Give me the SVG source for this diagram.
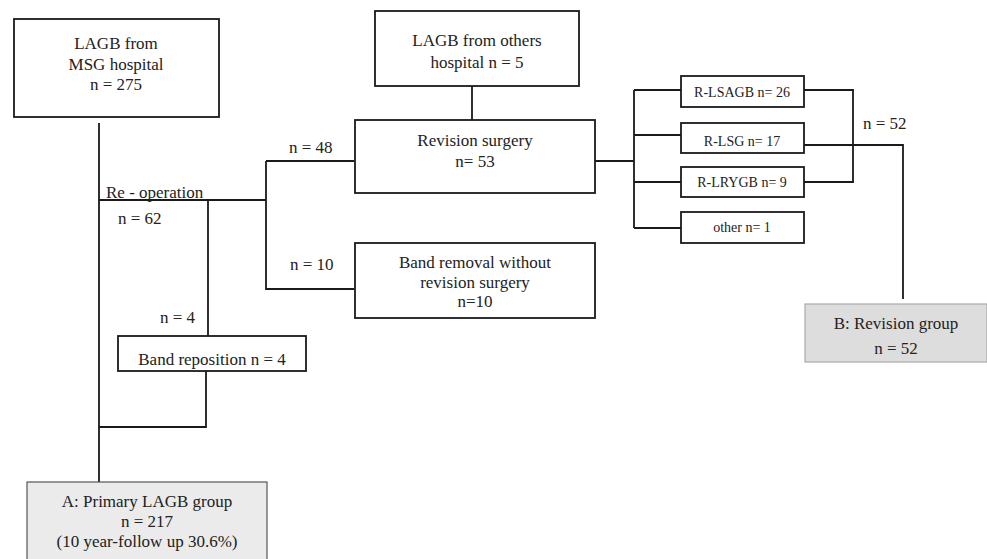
<svg xmlns="http://www.w3.org/2000/svg" width="987" height="559" viewBox="0 0 987 559">
<style>
.b{fill:#fff;stroke:#1a1a1a;stroke-width:1.8}
.g{fill:#ebebeb;stroke:#555;stroke-width:1.2}
.gb{fill:#dddddd;stroke:#aaa;stroke-width:1.2}
.t{font-family:"Liberation Serif","Times New Roman",serif;font-size:17px;fill:#222;text-anchor:middle}
.s{font-family:"Liberation Serif","Times New Roman",serif;font-size:14px;fill:#222;text-anchor:middle}
.l{font-family:"Liberation Serif","Times New Roman",serif;font-size:17px;fill:#222}
.c{fill:none;stroke:#1a1a1a;stroke-width:1.8}
</style>
<rect width="987" height="559" fill="#fff"/>
<g id="connectors">
<path class="c" d="M99 123V482M99 200H266M208 200V336M266 161V290M266 161H354M266 289H354M206 371V427H99"/>
<path class="c" d="M472 86V120M595 161H634M634 90V228M634 90H681M634 135H681M634 182H681M634 228H681"/>
<path class="c" d="M804 90H853V182H804M804 145H903V299"/>
</g>
<g id="labels">
<text class="l" x="106" y="198">Re - operation</text>
<text class="l" x="118" y="224">n = 62</text>
<text class="l" x="289" y="153">n = 48</text>
<text class="l" x="290" y="270">n = 10</text>
<text class="l" x="160" y="323">n = 4</text>
<text class="l" x="863" y="129">n = 52</text>
</g>
<g id="msg">
<rect class="b" x="14" y="19" width="205" height="98"/>
<text class="t" x="116" y="49">LAGB from</text>
<text class="t" x="116" y="70">MSG hospital</text>
<text class="t" x="116" y="90">n = 275</text>
</g>
<g id="others">
<rect class="b" x="375" y="11" width="204" height="75"/>
<text class="t" x="477" y="46">LAGB from others</text>
<text class="t" x="477" y="68">hospital n = 5</text>
</g>
<g id="revision">
<rect class="b" x="355" y="120" width="240" height="73"/>
<text class="t" x="475" y="146">Revision surgery</text>
<text class="t" x="475" y="167">n= 53</text>
</g>
<g id="removal">
<rect class="b" x="355" y="243" width="240" height="75"/>
<text class="t" x="475" y="268">Band removal without</text>
<text class="t" x="475" y="288">revision surgery</text>
<text class="t" x="475" y="307">n=10</text>
</g>
<g id="reposition">
<rect class="b" x="118" y="336" width="188" height="35"/>
<text class="t" x="212" y="365">Band reposition n = 4</text>
</g>
<g id="lsagb">
<rect class="b" x="681" y="76" width="123" height="31"/>
<text class="s" x="742" y="97">R-LSAGB n= 26</text>
</g>
<g id="lsg">
<rect class="b" x="681" y="123" width="123" height="30"/>
<text class="s" x="742" y="146">R-LSG n= 17</text>
</g>
<g id="lrygb">
<rect class="b" x="681" y="167" width="123" height="30"/>
<text class="s" x="742" y="187">R-LRYGB n= 9</text>
</g>
<g id="other">
<rect class="b" x="681" y="212" width="123" height="31"/>
<text class="s" x="742" y="232">other n= 1</text>
</g>
<g id="groupB">
<rect class="gb" x="805" y="304" width="182" height="58"/>
<text class="t" x="896" y="329">B: Revision group</text>
<text class="t" x="896" y="354">n = 52</text>
</g>
<g id="groupA">
<rect class="g" x="27" y="482" width="240" height="80"/>
<text class="t" x="147" y="507">A: Primary LAGB group</text>
<text class="t" x="147" y="527">n = 217</text>
<text class="t" x="147" y="547">(10 year-follow up 30.6%)</text>
</g>
</svg>
